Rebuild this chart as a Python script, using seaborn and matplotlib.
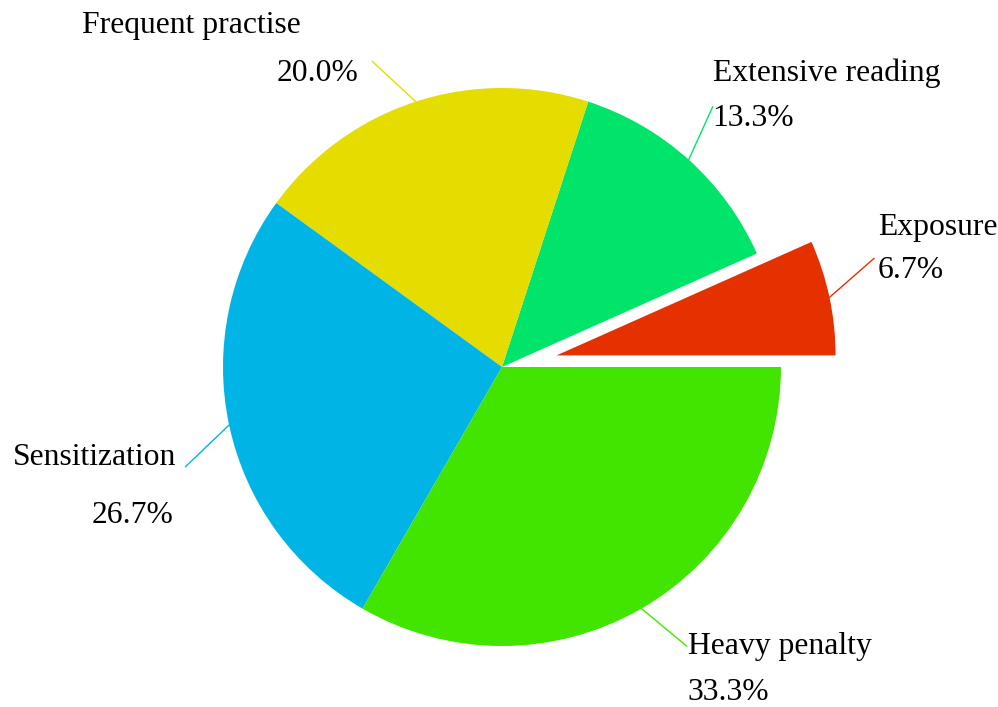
import numpy as np
import matplotlib
matplotlib.use("Agg")
import matplotlib.pyplot as plt
import seaborn as sns

# ---- data ----
categories = ["Exposure", "Extensive reading", "Frequent practise", "Sensitization", "Heavy penalty"]
values = [1, 2, 3, 4, 5]
pct_labels = ["6.7%", "13.3%", "20.0%", "26.7%", "33.3%"]

# ---- style / layout ----
sns.set_theme(style="white")
plt.rcParams['font.family'] = ['Liberation Serif', 'DejaVu Serif']
colors = sns.color_palette(["#E53000", "#00E569", "#E5DC00", "#00B5E5", "#42E500"])
explode = [0.2, 0, 0, 0, 0]
# angular shift (deg) of the leader-line end, and text offsets (pixels) for name / percent
line_shift = [5, 3, 5, 5.5, 3.5]
line_r = [1.19, 1.2, 1.19, 1.19, 1.2]
name_off = [(4, 31), (0, 34), (-72, 36), (-9, 9), (1, 0)]
pct_off = [(4, -12), (0, -12), (-14, -12), (-12, -49), (1, -46)]
ha_list = ["left", "left", "right", "right", "left"]

W, H, dpi = 998, 707, 100
fig = plt.figure(figsize=(W / dpi, H / dpi), dpi=dpi)
ax = fig.add_axes([0, 0, 1, 1])
R = 279.0
cx, cy = 502.0, 367.0

wedges, _ = ax.pie(values, colors=colors, explode=explode, startangle=0,
                   counterclock=True, radius=1.0,
                   wedgeprops=dict(linewidth=0))
ax.set_xlim(-cx / R, (W - cx) / R)
ax.set_ylim(-(H - cy) / R, cy / R)
ax.set_aspect('auto')
ax.axis('off')

for i, w in enumerate(wedges):
    mid = np.deg2rad((w.theta1 + w.theta2) / 2)
    ox, oy = explode[i] * np.cos(mid), explode[i] * np.sin(mid)
    x0, y0 = ox + np.cos(mid), oy + np.sin(mid)
    a1 = mid + np.deg2rad(line_shift[i])
    x1, y1 = ox + line_r[i] * np.cos(a1), oy + line_r[i] * np.sin(a1)
    ax.plot([x0, x1], [y0, y1], color=colors[i], lw=1)
    ax.annotate(categories[i], xy=(x1, y1), xytext=name_off[i], textcoords='offset pixels',
                ha=ha_list[i], va='center', fontsize=22.8, color='black')
    ax.annotate(pct_labels[i], xy=(x1, y1), xytext=pct_off[i], textcoords='offset pixels',
                ha=ha_list[i], va='center', fontsize=22.8, color='black')

fig.savefig("out.png", dpi=dpi, facecolor='white')
